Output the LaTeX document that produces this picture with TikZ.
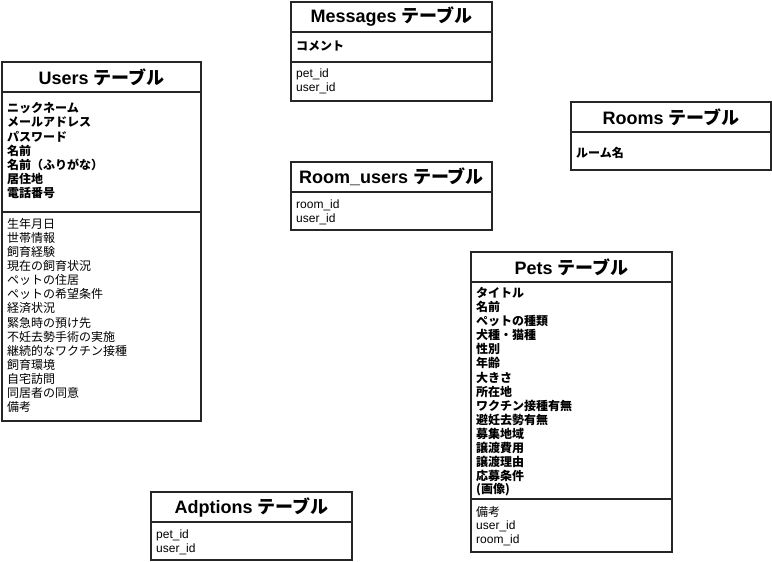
\documentclass[tikz,border=0pt]{standalone}
\usepackage{fontspec}
\setmainfont{Liberation Sans}
\newfontfamily\jp{Noto Sans CJK JP}

\begin{document}
\begin{tikzpicture}[x=1pt,y=-1pt,
  tbl/.style={draw=black!85,line width=1.5pt},
  ttl/.style={font=\fontsize{18}{20}\selectfont\bfseries},
  fld/.style={anchor=west,inner sep=0pt,font=\fontsize{12}{14}\selectfont},
  keyfld/.style={anchor=west,inner sep=0pt,font=\fontsize{12}{14}\selectfont\bfseries}]
\useasboundingbox (0,0) rectangle (772,562);

% Users
\draw[tbl] (2,62) rectangle (201,421);
\draw[tbl] (2,92) -- (201,92) (2,212) -- (201,212);
\node[ttl] (users) at (101.5,77) {Users \jp テーブル};
\foreach \t [count=\i] in {ニックネーム,メールアドレス,パスワード,名前,名前（ふりがな）,居住地,電話番号}
  \node[keyfld] (users-k\i) at (7,{108+(\i-1)*14.2}) {\jp\t};
\foreach \t [count=\i] in {生年月日,世帯情報,飼育経験,現在の飼育状況,ペットの住居,ペットの希望条件,経済状況,緊急時の預け先,不妊去勢手術の実施,継続的なワクチン接種,飼育環境,自宅訪問,同居者の同意,備考}
  \node[fld] (users-f\i) at (7,{224+(\i-1)*14.08}) {\jp\t};

% Messages
\draw[tbl] (291,2) rectangle (492,101);
\draw[tbl] (291,32) -- (492,32) (291,62) -- (492,62);
\node[ttl] (msgs) at (391.5,17) {Messages \jp テーブル};
\node[keyfld] (msgs-k1) at (296,46) {\jp コメント};
\node[fld] (msgs-f1) at (296,74) {pet\_id};
\node[fld] (msgs-f2) at (296,88) {user\_id};

% Rooms
\draw[tbl] (571,102) rectangle (771,170);
\draw[tbl] (571,132) -- (771,132);
\node[ttl] (rooms) at (671,117) {Rooms \jp テーブル};
\node[keyfld] (rooms-k1) at (576,153) {\jp ルーム名};

% Room_users
\draw[tbl] (291,162) rectangle (492,230);
\draw[tbl] (291,192) -- (492,192);
\node[ttl] (roomusers) at (391.5,177) {Room\_users \jp テーブル};
\node[fld] (roomusers-f1) at (296,205) {room\_id};
\node[fld] (roomusers-f2) at (296,219) {user\_id};

% Pets
\draw[tbl] (471,252) rectangle (672,552);
\draw[tbl] (471,282) -- (672,282) (471,499) -- (672,499);
\node[ttl] (pets) at (571.5,267) {Pets \jp テーブル};
\foreach \t [count=\i] in {タイトル,名前,ペットの種類,犬種・猫種,性別,年齢,大きさ,所在地,ワクチン接種有無,避妊去勢有無,募集地域,譲渡費用,譲渡理由,応募条件,{(画像)}}
  \node[keyfld] (pets-k\i) at (476,{293+(\i-1)*14.07}) {\jp\t};
\node[fld] (pets-f1) at (476,512) {\jp 備考};
\node[fld] (pets-f2) at (476,526) {user\_id};
\node[fld] (pets-f3) at (476,540) {room\_id};

% Adptions
\draw[tbl] (151,492) rectangle (352,560);
\draw[tbl] (151,522) -- (352,522);
\node[ttl] (adoptions) at (251.5,507) {Adptions \jp テーブル};
\node[fld] (adoptions-f1) at (156,535) {pet\_id};
\node[fld] (adoptions-f2) at (156,549) {user\_id};
\end{tikzpicture}
\end{document}
